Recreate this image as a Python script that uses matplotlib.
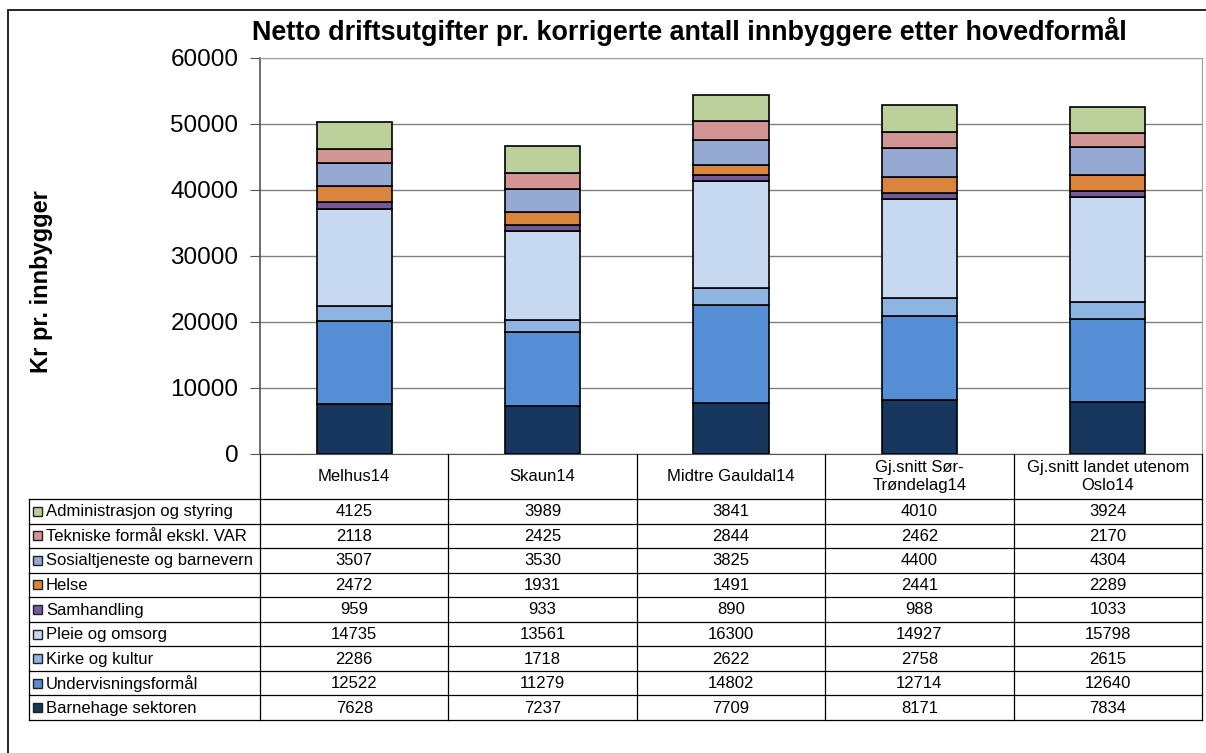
import matplotlib
matplotlib.use('Agg')
import matplotlib.pyplot as plt
from matplotlib.patches import Rectangle
import numpy as np

plt.rcParams['font.family'] = ['Liberation Sans', 'DejaVu Sans']

# data (bottom to top in the stack)
categories = ['Melhus14', 'Skaun14', 'Midtre Gauldal14',
              'Gj.snitt Sør-\nTrøndelag14', 'Gj.snitt landet utenom\nOslo14']
series_names = ['Barnehage sektoren', 'Undervisningsformål', 'Kirke og kultur',
                'Pleie og omsorg', 'Samhandling', 'Helse',
                'Sosialtjeneste og barnevern', 'Tekniske formål ekskl. VAR',
                'Administrasjon og styring']
barnehage = [7628, 7237, 7709, 8171, 7834]
undervisning = [12522, 11279, 14802, 12714, 12640]
kirke = [2286, 1718, 2622, 2758, 2615]
pleie = [14735, 13561, 16300, 14927, 15798]
samhandling = [959, 933, 890, 988, 1033]
helse = [2472, 1931, 1491, 2441, 2289]
sosial = [3507, 3530, 3825, 4400, 4304]
tekniske = [2118, 2425, 2844, 2462, 2170]
admin = [4125, 3989, 3841, 4010, 3924]
series = [barnehage, undervisning, kirke, pleie, samhandling, helse,
          sosial, tekniske, admin]
colors = ['#17375E', '#558ED5', '#8DB4E2', '#C6D9F1', '#73589A', '#DB843D',
          '#95A9D2', '#D39494', '#BBD09A']

W, H = 1206, 753
fig = plt.figure(figsize=(W / 100, H / 100), dpi=100)

# outer frame
fig.patches.append(Rectangle((8 / W, -0.1), 1.2, 1 - 10 / H + 0.1,
                             transform=fig.transFigure, fill=False,
                             edgecolor='black', linewidth=1.2))

left, right, top, bottom = 260, 1202, 58, 454
ax = fig.add_axes([left / W, 1 - bottom / H, (right - left) / W, (bottom - top) / H])

x = np.arange(len(categories))
base = np.zeros(len(categories))
for vals, col in zip(series, colors):
    ax.bar(x, vals, 0.4, bottom=base, color=col, edgecolor='black', linewidth=1.2, zorder=3)
    base += np.array(vals)

ax.set_xlim(-0.5, len(categories) - 0.5)
ax.set_ylim(0, 60000)
ax.set_yticks(range(0, 60001, 10000))
ax.tick_params(axis='y', labelsize=17.5, length=7, pad=8.5, direction='out', color='#555555')
ax.set_xticks(np.arange(len(categories) + 1) - 0.5)
ax.set_xticklabels([])
ax.tick_params(axis='x', length=0)
ax.grid(axis='y', color='#808080', linewidth=1, zorder=0)
for s in ['top', 'right']:
    ax.spines[s].set_color('#A0A0A0')
for s in ['left', 'bottom']:
    ax.spines[s].set_color('#555555')
ax.spines['left'].set_linewidth(1.2)

fig.text(42 / W, 1 - 282 / H, 'Kr pr. innbygger', rotation=90, fontsize=17,
         fontweight='bold', ha='center', va='center')
fig.text(689 / W, 1 - 31 / H,
         'Netto driftsutgifter pr. korrigerte antall innbyggere etter hovedformål',
         fontsize=19.4, fontweight='bold', ha='center', va='center')

# data table
tl, tb, hb = 29, 720, 499
tax = fig.add_axes([0, 0, 1, 1])
tax.set_xlim(0, W)
tax.set_ylim(H, 0)
tax.axis('off')
colw = (right - left) / len(categories)
rowh = (tb - hb) / len(series_names)
lc = 'black'
# verticals
for i in range(len(categories) + 1):
    xx = left + i * colw
    tax.plot([xx, xx], [bottom, tb], color=lc, lw=0.9)
tax.plot([tl, tl], [hb, tb], color=lc, lw=0.9)
# horizontals
for j in range(len(series_names) + 1):
    yy = hb + j * rowh
    tax.plot([tl, right], [yy, yy], color=lc, lw=0.9)
for i, c in enumerate(categories):
    tax.text(left + (i + 0.5) * colw, (bottom + hb) / 2, c, ha='center',
             va='center', fontsize=12, linespacing=1.18)
rows = list(zip(series_names, series, colors))[::-1]
for j, (name, vals, col) in enumerate(rows):
    yc = hb + (j + 0.5) * rowh
    tax.add_patch(Rectangle((33, yc - 4.5), 9, 9, facecolor=col, edgecolor='#222222', lw=1))
    tax.text(46, yc + 0.5, name, ha='left', va='center', fontsize=12)
    for i, v in enumerate(vals):
        tax.text(left + (i + 0.5) * colw, yc + 0.5, str(v), ha='center',
                 va='center', fontsize=12)

fig.savefig('out.png', dpi=100)
